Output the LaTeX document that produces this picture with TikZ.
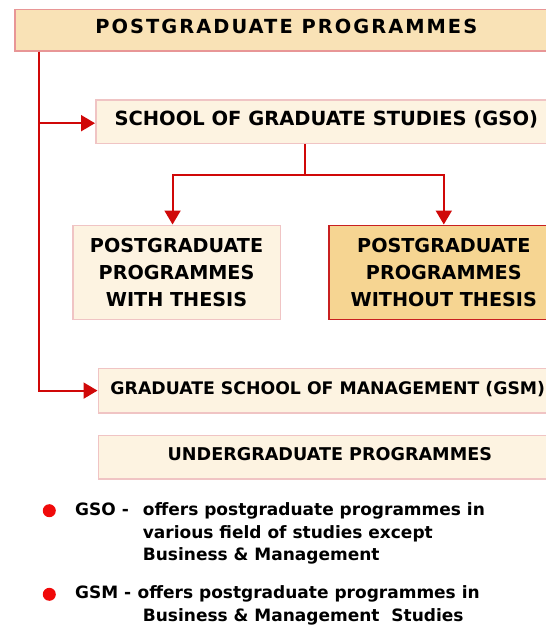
\documentclass[tikz,border=0pt]{standalone}
\usepackage{fontspec}
\setmainfont{DejaVu Sans}
\usetikzlibrary{arrows.meta}
\definecolor{topfill}{RGB}{249,226,182}
\definecolor{lightfill}{RGB}{253,243,225}
\definecolor{darkfill}{RGB}{246,213,146}
\definecolor{topborder}{RGB}{232,150,150}
\definecolor{lightborder}{RGB}{240,196,196}
\definecolor{darkborder}{RGB}{200,32,32}
\definecolor{conncol}{RGB}{208,8,8}
\definecolor{dotcol}{RGB}{240,10,10}
\tikzset{
  boxbase/.style={anchor=north west, inner sep=0pt, line width=1.6pt, align=center, text=black},
  onebox/.style={boxbase, text height=0.729em, text depth=0pt},
  conn/.style={draw=conncol, line width=2pt},
  arr/.style={conn, -{Triangle[width=16pt,length=14pt]}},
  bdot/.style={circle, fill=dotcol, inner sep=0pt, minimum size=13pt},
  btxt/.style={anchor=base west, inner sep=0pt, font=\fontsize{17}{20}\selectfont\bfseries, text=black},
}
\begin{document}
\begin{tikzpicture}[x=1pt,y=-1pt]
\useasboundingbox (0,0) rectangle (546,627);
\clip (0,0) rectangle (546,627);
% boxes
\node[onebox, draw=topborder, fill=topfill, minimum width=543pt, minimum height=41.5pt,
      font=\fontsize{19.4}{24}\selectfont\bfseries\addfontfeature{LetterSpace=10.5}] (top) at (14,8.5) {POSTGRADUATE PROGRAMMES};
\node[onebox, draw=lightborder, fill=lightfill, minimum width=461pt, minimum height=43.8pt,
      font=\fontsize{19.5}{24}\selectfont\bfseries] (gso) at (95,99) {SCHOOL OF GRADUATE STUDIES (GSO)};
\node[boxbase, draw=lightborder, fill=lightfill, minimum width=207.5pt, minimum height=94pt,
      font=\fontsize{19.2}{26.8}\selectfont\bfseries] (left) at (72,224.5) {POSTGRADUATE\\PROGRAMMES\\WITH THESIS};
\node[boxbase, draw=darkborder, fill=darkfill, minimum width=230pt, minimum height=94pt,
      font=\fontsize{19.2}{26.8}\selectfont\bfseries] (right) at (328,224.5) {POSTGRADUATE\\PROGRAMMES\\WITHOUT THESIS};
\node[onebox, draw=lightborder, fill=lightfill, minimum width=459pt, minimum height=44.2pt,
      font=\fontsize{17.3}{22}\selectfont\bfseries] (gsm) at (97.5,367.7) {GRADUATE SCHOOL OF MANAGEMENT (GSM)};
\node[onebox, draw=lightborder, fill=lightfill, minimum width=463pt, minimum height=43.8pt,
      font=\fontsize{17.6}{22}\selectfont\bfseries] (ug) at (97.5,434.5) {UNDERGRADUATE PROGRAMMES};
% connectors
\draw[arr] ([xshift=25.3pt]top.south west) |- ([yshift=-1.5pt]gso.west);
\draw[arr] ([xshift=25.3pt]top.south west) |- (gsm.west);
\draw[conn] ([xshift=210.2pt]gso.south west) -- ++(0,30.8) coordinate (split);
\draw[arr] (split) -| ([xshift=-4pt]left.north);
\draw[arr] (split) -| (right.north);
% notes
\node[bdot] (d1) at (49.3,510.7) {};
\node[btxt] (n1a) at (75,515.7) {GSO -};
\node[btxt] (n1b) at (142.7,515.7) {offers postgraduate programmes in};
\node[btxt] (n1c) at (142.7,538.7) {various field of studies except};
\node[btxt] (n1d) at (142.7,560.5) {Business \& Management};
\node[bdot] (d2) at (49.3,594.3) {};
\node[btxt] (n2a) at (75,598.3) {GSM -};
\node[btxt] (n2b) at (137.5,598.3) {offers postgraduate programmes in};
\node[btxt] (n2c) at (142.7,621.2) {Business \& Management\ \ Studies};
\end{tikzpicture}
\end{document}
